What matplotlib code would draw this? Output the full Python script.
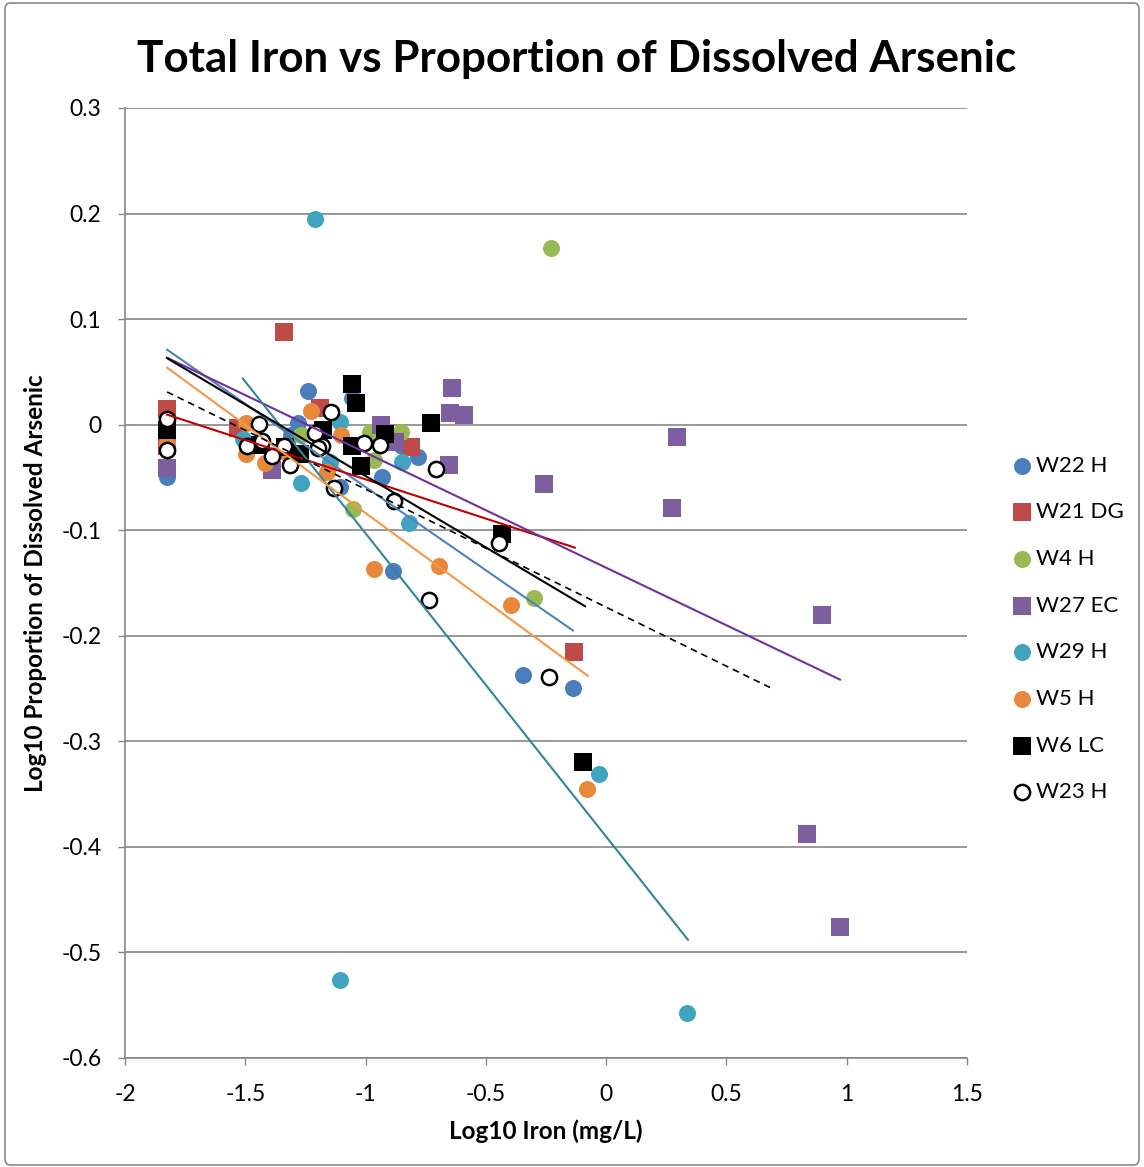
import matplotlib
matplotlib.use("Agg")
import matplotlib.pyplot as plt
from matplotlib.patches import FancyBboxPatch

plt.rcParams['font.family'] = ['Lato', 'DejaVu Sans']

# ---- data (log10 iron, log10 proportion dissolved arsenic) ----
w22_x = [-1.825, -1.239, -1.057, -1.28, -1.31, -1.106, -0.932, -0.886, -0.782, -0.346, -0.138, -0.85]
w22_y = [-0.050, 0.032, 0.025, 0.002, -0.010, -0.059, -0.050, -0.139, -0.031, -0.237, -0.249, -0.020]

w21_x = [-1.825, -1.825, -1.339, -1.19, -0.811, -0.134, -1.53]
w21_y = [0.015, -0.020, 0.088, 0.016, -0.021, -0.215, -0.003]

w4_x = [-0.229, -0.30, -1.052, -0.853, -0.98, -1.27, -0.965, -0.93]
w4_y = [0.167, -0.164, -0.080, -0.007, -0.007, -0.010, -0.033, -0.012]

w27_x = [-1.825, -1.389, -0.936, -0.641, -0.649, -0.591, -0.653, -0.259, 0.294, 0.273, 0.897, 0.835, 0.972, -0.878]
w27_y = [-0.041, -0.043, 0.000, 0.035, 0.011, 0.009, -0.038, -0.056, -0.012, -0.079, -0.180, -0.388, -0.476, -0.016]

w29_x = [-1.21, -1.106, 0.336, -0.03, -0.82, -0.849, -1.268, -1.51, -1.106, -1.148]
w29_y = [0.195, -0.526, -0.557, -0.331, -0.093, -0.035, -0.055, -0.014, 0.003, -0.035]

w5_x = [-1.497, -1.497, -1.418, -1.227, -1.102, -0.965, -0.695, -0.396, -0.080, -1.825, -1.16, -1.327]
w5_y = [0.002, -0.028, -0.036, 0.013, -0.010, -0.137, -0.134, -0.171, -0.345, -0.017, -0.045, -0.027]

w6_x = [-1.825, -1.057, -1.04, -0.728, -0.92, -1.057, -1.019, -1.177, -0.433, -0.096, -1.335, -1.44, -1.273]
w6_y = [-0.005, 0.039, 0.021, 0.002, -0.009, -0.020, -0.039, -0.005, -0.104, -0.320, -0.021, -0.019, -0.028]

w23_x = [-1.825, -1.825, -1.443, -1.493, -1.431, -1.389, -1.339, -1.314, -1.21, -1.181, -1.144, -1.131,
         -1.007, -0.94, -0.882, -0.707, -0.737, -0.446, -0.238, -1.198]
w23_y = [0.005, -0.024, 0.001, -0.020, -0.015, -0.030, -0.020, -0.038, -0.008, -0.020, 0.012, -0.060,
         -0.017, -0.019, -0.072, -0.042, -0.166, -0.112, -0.239, -0.022]

# trendline end points ([x0, x1], [y0, y1])
trend_w22 = ([-1.825, -0.138], [0.071, -0.195])
trend_w21 = ([-1.825, -0.130], [0.0095, -0.1165])
trend_w27 = ([-1.825, 0.972], [0.0634, -0.2415])
trend_w29 = ([-1.51, 0.340], [0.0436, -0.488])
trend_w5 = ([-1.825, -0.076], [0.054, -0.238])
trend_w6 = ([-1.825, -0.088], [0.063, -0.172])
trend_w23 = ([-1.825, 0.681], [0.031, -0.249])

xticks = [-2, -1.5, -1, -0.5, 0, 0.5, 1, 1.5]
xtick_labels = ['-2', '-1.5', '-1', '-0.5', '0', '0.5', '1', '1.5']
yticks = [0.3, 0.2, 0.1, 0, -0.1, -0.2, -0.3, -0.4, -0.5, -0.6]
ytick_labels = ['0.3', '0.2', '0.1', '0', '-0.1', '-0.2', '-0.3', '-0.4', '-0.5', '-0.6']

W, H = 1144, 1167
fig = plt.figure(figsize=(W / 100, H / 100), dpi=100)
ax = fig.add_axes([125 / W, 1 - 1058 / H, (967 - 125) / W, (1058 - 108) / H])

c_blue = '#4A7EBB'
c_red = '#BE4B48'
c_green = '#98B954'
c_purple = '#7D5FA0'
c_teal = '#40A3BF'
c_orange = '#E8883A'

s_c = 150
s_q = 150
ax.scatter(w22_x, w22_y, s=s_c, marker='o', color=c_blue, label='W22 H', zorder=3, linewidths=0)
ax.scatter(w21_x, w21_y, s=s_q, marker='s', color=c_red, label='W21 DG', zorder=3, linewidths=0)
ax.scatter(w4_x, w4_y, s=s_c, marker='o', color=c_green, label='W4 H', zorder=3, linewidths=0)
ax.scatter(w27_x, w27_y, s=s_q, marker='s', color=c_purple, label='W27 EC', zorder=3, linewidths=0)
ax.scatter(w29_x, w29_y, s=s_c, marker='o', color=c_teal, label='W29 H', zorder=3, linewidths=0)
ax.scatter(w5_x, w5_y, s=s_c, marker='o', color=c_orange, label='W5 H', zorder=3, linewidths=0)
ax.scatter(w6_x, w6_y, s=s_q, marker='s', color='black', label='W6 LC', zorder=3, linewidths=0)
ax.scatter(w23_x, w23_y, s=120, marker='o', facecolor='white', edgecolor='black', linewidths=1.8,
           label='W23 H', zorder=3)

lw = 1.5
ax.plot(*trend_w22, color='#4F81BD', lw=lw, zorder=4)
ax.plot(*trend_w21, color='#C00000', lw=lw, zorder=4)
ax.plot(*trend_w27, color='#7030A0', lw=lw, zorder=4)
ax.plot(*trend_w29, color='#31859C', lw=lw, zorder=4)
ax.plot(*trend_w5, color='#F79646', lw=lw, zorder=4)
ax.plot(*trend_w6, color='black', lw=lw, zorder=4)
ax.plot(*trend_w23, color='black', lw=1.2, ls=(0, (4, 3)), zorder=4)

ax.set_xlim(-2, 1.5)
ax.set_ylim(-0.6, 0.3)
ax.set_xticks(xticks)
ax.set_xticklabels(xtick_labels)
ax.set_yticks(yticks)
ax.set_yticklabels(ytick_labels)
ax.tick_params(axis='both', labelsize=16.5, direction='out', length=5, width=1, color='#868686')
ax.tick_params(axis='x', pad=14)
ax.tick_params(axis='y', pad=12)
ax.yaxis.grid(True, color='#868686', lw=1.2)
ax.set_axisbelow(True)
for sp in ['top', 'right']:
    ax.spines[sp].set_visible(False)
for sp in ['left', 'bottom']:
    ax.spines[sp].set_color('#868686')
    ax.spines[sp].set_linewidth(1.2)

ax.set_xlabel('Log10 Iron (mg/L)', fontsize=17.5, fontweight='bold')
ax.set_ylabel('Log10 Proportion of Dissolved Arsenic', fontsize=17.5, fontweight='bold')
ax.xaxis.set_label_coords(0.5, -0.065)
ax.yaxis.set_label_coords(-0.093, 0.5)

fig.text(577 / W, 1 - 59 / H, 'Total Iron vs Proportion of Dissolved Arsenic', ha='center', va='center',
         fontsize=31.7, fontweight='bold')

leg = ax.legend(loc='center left', bbox_to_anchor=(1.042, 0.4516), frameon=False, fontsize=16,
                labelspacing=1.2, handletextpad=0.1, borderaxespad=0, handlelength=1.0,
                scatterpoints=1)

border = FancyBboxPatch((5 / W, 2 / H), 1134 / W, 1162 / H, boxstyle='round,pad=0,rounding_size=0.005',
                        transform=fig.transFigure, fill=False, edgecolor='#898989', lw=1.2)
fig.patches.append(border)

fig.savefig('out.png', dpi=100)
